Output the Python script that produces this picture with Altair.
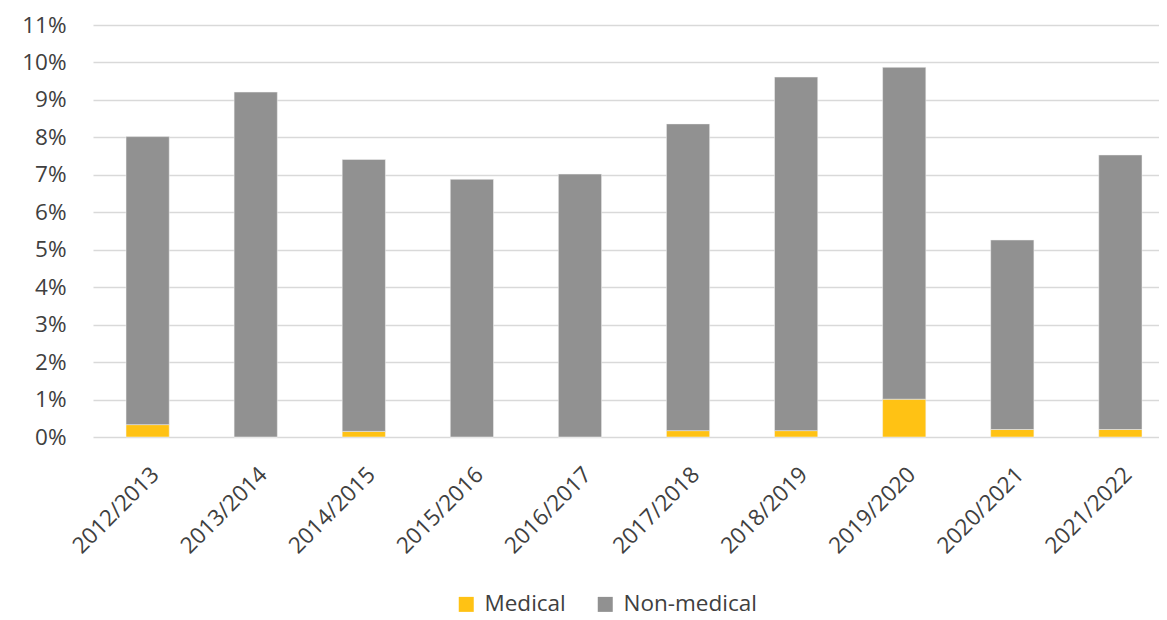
import altair as alt
import pandas as pd

years = ["2012/2013", "2013/2014", "2014/2015", "2015/2016", "2016/2017",
         "2017/2018", "2018/2019", "2019/2020", "2020/2021", "2021/2022"]
medical = [0.33, 0.0, 0.15, 0.0, 0.0, 0.17, 0.17, 1.01, 0.20, 0.20]
total = [8.02, 9.21, 7.41, 6.88, 7.02, 8.36, 9.61, 9.87, 5.26, 7.53]
non_medical = [round(t - m, 2) for t, m in zip(total, medical)]
series = ["Medical", "Non-medical"]
colors = ["#FFC214", "#919191"]

rows = []
for y, m, n in zip(years, medical, non_medical):
    rows.append({"year": y, "series": "Medical", "value": m / 100, "ord": 0})
    rows.append({"year": y, "series": "Non-medical", "value": n / 100, "ord": 1})
df = pd.DataFrame(rows)

FONT = "Open Sans"
TXT = "#404040"
FS = 22.5

chart = alt.Chart(df).mark_bar(stroke="#f4f4f4", strokeWidth=0.5).encode(
    x=alt.X("year:N", sort=years, title=None,
            scale=alt.Scale(paddingInner=0.6, paddingOuter=0.2315, align=0.66),
            axis=alt.Axis(labelAngle=-45, labelFont=FONT, labelFontSize=FS,
                          labelColor=TXT, domain=False, ticks=False,
                          labelPadding=26)),
    y=alt.Y("value:Q", title=None,
            scale=alt.Scale(domain=[0, 0.11], nice=False),
            axis=alt.Axis(format=".0%", values=[i / 100 for i in range(12)],
                          labelFont=FONT, labelFontSize=FS, labelColor=TXT,
                          domain=False, ticks=False, labelPadding=27,
                          gridColor="#d9d9d9", gridWidth=1.5)),
    color=alt.Color("series:N", sort=series,
                    scale=alt.Scale(domain=series, range=colors),
                    legend=alt.Legend(title=None, orient="none", direction="horizontal",
                                      legendX=362, legendY=568,
                                      symbolType="square", symbolSize=225,
                                      symbolStrokeWidth=0, labelOffset=7,
                                      labelFont=FONT, labelFontSize=22.5,
                                      labelColor=TXT, columnPadding=28)),
    order=alt.Order("ord:Q", sort="ascending"),
).properties(
    width=1066, height=412,
    padding={"left": 13, "top": 6, "right": 0, "bottom": 4},
).configure(background="white").configure_view(stroke=None)

chart.save("out.html", embed_options={"renderer": "svg", "actions": False})
